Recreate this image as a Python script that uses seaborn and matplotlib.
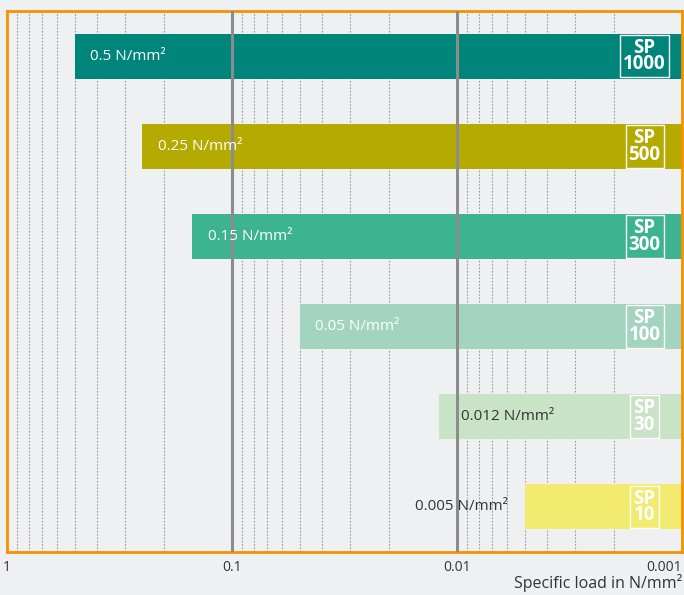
import numpy as np
import seaborn as sns
import matplotlib.pyplot as plt
from matplotlib.ticker import LogLocator, NullFormatter, FixedLocator

products = ['SP\n1000', 'SP\n500', 'SP\n300', 'SP\n100', 'SP\n30', 'SP\n10']
loads = [0.5, 0.25, 0.15, 0.05, 0.012, 0.005]
load_labels = ['0.5 N/mm²', '0.25 N/mm²', '0.15 N/mm²', '0.05 N/mm²', '0.012 N/mm²', '0.005 N/mm²']
colors = ['#00857a', '#b4aa00', '#3cb48f', '#a2d4bf', '#c9e3c6', '#f3ea70']
label_colors = ['white', 'white', 'white', 'white', '#333333', '#333333']
tick_vals = [1, 0.1, 0.01, 0.001]
tick_text = ['1', '0.1', '0.01', '0.001']

bg = '#eff0f2'
sns.set_style('white')
plt.rcParams['font.family'] = ['Open Sans', 'DejaVu Sans']

fig = plt.figure(figsize=(6.84, 5.95), dpi=100, facecolor=bg)
ax = fig.add_axes([7 / 684, 43 / 595, 675 / 684, 541 / 595])
ax.set_facecolor(bg)
ax.set_xscale('log')

sns.barplot(x=loads, y=products, hue=products, palette=colors, legend=False,
            width=0.5, saturation=1, orient='h', linewidth=0, ax=ax)

ax.set_xlim(1, 0.001)
ax.set_ylim(5.5, -0.5)

# dotted minor grid under the bars, solid decades on top
ax.xaxis.set_minor_locator(LogLocator(base=10, subs=np.arange(2, 10)))
ax.xaxis.set_minor_formatter(NullFormatter())
ax.grid(which='minor', axis='x', color='#9a9a9a', ls=(0, (1.5, 1.5)), lw=0.8)
ax.grid(which='major', axis='x', visible=False)
ax.set_axisbelow(True)
for v in tick_vals[1:3]:
    ax.axvline(v, color='#8c8c8c', lw=2.2, zorder=3)

ax.xaxis.set_major_locator(FixedLocator(tick_vals))
ax.set_xticklabels(tick_text)
ax.tick_params(axis='x', which='both', length=0, labelsize=10, colors='#333333', pad=6)
ax.get_xticklabels()[-1].set_ha('right')
ax.set_yticks([])
ax.set_ylabel('')
ax.set_xlabel('Specific load in N/mm²', fontsize=11.5, color='#333333')
ax.xaxis.set_label_coords(1.0, -0.058)
ax.xaxis.label.set_ha('right')
ax.xaxis.label.set_va('center')

for s in ax.spines.values():
    s.set_color('#f39200')
    s.set_linewidth(2)

for i, (v, t) in enumerate(zip(loads, load_labels)):
    if i == 5:
        ax.annotate(t, (v, i), xytext=(-12, 0), textcoords='offset points', ha='right',
                    va='center', fontsize=11, color=label_colors[i], zorder=4)
    else:
        off = 16 if i == 4 else 11
        ax.annotate(t, (v, i), xytext=(off, 0), textcoords='offset points', ha='left',
                    va='center', fontsize=11, color=label_colors[i], zorder=4)
    ax.annotate(products[i], (0.001, i), xytext=(-27, 0), textcoords='offset points',
                ha='center', va='center', fontsize=13.5, fontweight='bold', color='white',
                linespacing=0.78, zorder=4,
                bbox=dict(boxstyle='square,pad=0.16', fc='none', ec='white', lw=1))

fig.savefig('out.png', dpi=100, facecolor=bg)
